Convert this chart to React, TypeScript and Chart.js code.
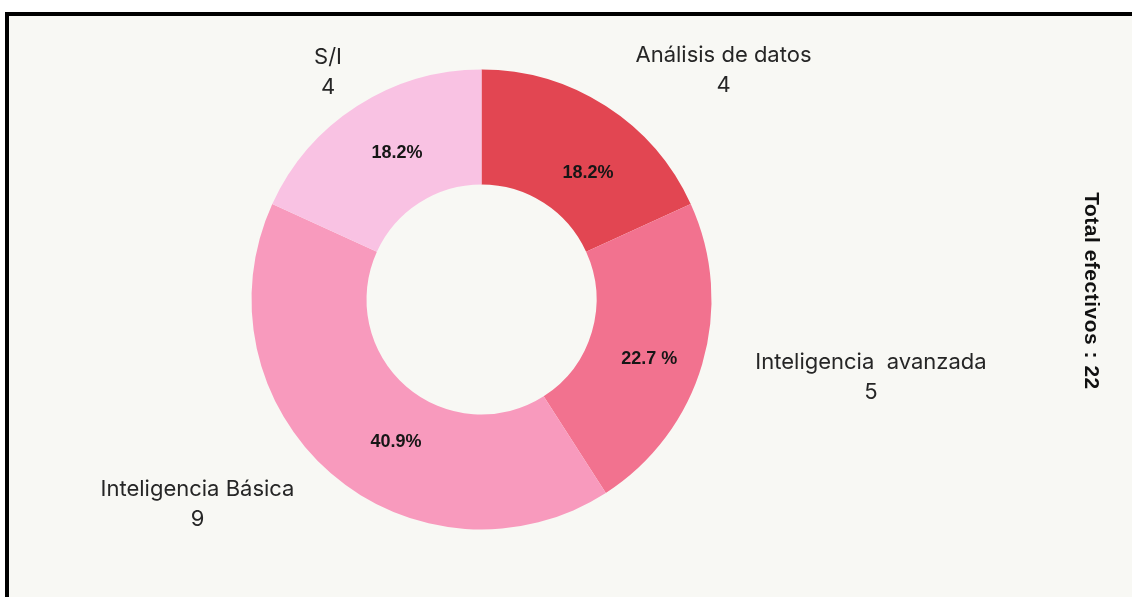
import React, { useEffect, useRef } from 'react';
import { Chart, registerables } from 'chart.js';

Chart.register(...registerables);

// ---- data ----
const categories = ['Análisis de datos', 'Inteligencia  avanzada', 'Inteligencia Básica', 'S/I'];
const counts = [4, 5, 9, 4];
const percentLabels = ['18.2%', '22.7 %', '40.9%', '18.2%'];
const totalLabel = 'Total efectivos : 22';

// ---- styles / layout ----
const sliceColors = ['#e24652', '#f2728f', '#f89abd', '#f9c2e3'];
const PAGE_W = 1132;
const PAGE_H = 597;
const CENTER_X = 481.5;
const CENTER_Y = 299.5;
const RADIUS = 230;
// outer label block centre, relative to doughnut centre
const outerLabelOffsets: [number, number][] = [
  [242, -229],
  [389.5, 77.5],
  [-284, 205],
  [-153.5, -227.5],
];
// percent label placement: angle shift from slice middle (deg) and radius (px)
const pctAngleShift = [7.5, 3.2, -9.9, 2.7];
const pctRadius = [165, 178, 166, 169];

const labelPlugin = {
  id: 'customLabels',
  afterDraw(chart: any) {
    const ctx = chart.ctx;
    const meta = chart.getDatasetMeta(0);
    ctx.save();
    meta.data.forEach((arc: any, i: number) => {
      const p = arc.getProps(['x', 'y', 'startAngle', 'endAngle'], true);
      const mid = (p.startAngle + p.endAngle) / 2 + (pctAngleShift[i] * Math.PI) / 180;
      const px = p.x + Math.cos(mid) * pctRadius[i];
      const py = p.y + Math.sin(mid) * pctRadius[i];
      ctx.font = 'bold 18px "Liberation Sans", Arial, sans-serif';
      ctx.fillStyle = '#161616';
      ctx.textAlign = 'center';
      ctx.textBaseline = 'middle';
      ctx.fillText(percentLabels[i], px, py);

      const [ox, oy] = outerLabelOffsets[i];
      ctx.font = '22px Inter, "Noto Sans", sans-serif';
      ctx.fillStyle = '#262626';
      ctx.fillText(categories[i], p.x + ox, p.y + oy - 15);
      ctx.fillText(String(counts[i]), p.x + ox, p.y + oy + 15);
    });

    // rotated total label
    ctx.translate(1091, 291);
    ctx.rotate(Math.PI / 2);
    ctx.font = 'bold 21px "Liberation Sans", Arial, sans-serif';
    (ctx as any).letterSpacing = '0.5px';
    ctx.fillStyle = '#111';
    ctx.textAlign = 'center';
    ctx.textBaseline = 'middle';
    ctx.fillText(totalLabel, 0, 0);
    ctx.restore();
  },
};

export default function App() {
  const canvasRef = useRef<HTMLCanvasElement | null>(null);

  useEffect(() => {
    if (!canvasRef.current) return;
    const chart = new Chart(canvasRef.current, {
      type: 'doughnut',
      data: {
        labels: categories,
        datasets: [
          {
            data: counts,
            backgroundColor: sliceColors,
            borderWidth: 0,
            hoverOffset: 0,
            offset: 0,
          },
        ],
      },
      options: {
        animation: false,
        responsive: false,
        maintainAspectRatio: false,
        cutout: '50%',
        layout: {
          padding: {
            left: CENTER_X - RADIUS,
            right: PAGE_W - (CENTER_X + RADIUS),
            top: CENTER_Y - RADIUS,
            bottom: PAGE_H - (CENTER_Y + RADIUS),
          },
        },
        plugins: {
          legend: { display: false },
          tooltip: { enabled: false },
        },
      },
      plugins: [labelPlugin],
    });
    return () => chart.destroy();
  }, []);

  return (
    <div
      style={{
        position: 'absolute',
        left: 0,
        top: 0,
        width: PAGE_W,
        height: PAGE_H,
        background: '#ffffff',
        overflow: 'hidden',
      }}
    >
      <div
        style={{
          position: 'absolute',
          left: 5,
          top: 12,
          width: PAGE_W + 20,
          height: PAGE_H + 20,
          borderLeft: '4px solid #000',
          borderTop: '4px solid #000',
          background: '#f8f8f4',
        }}
      />
      <canvas
        ref={canvasRef}
        width={PAGE_W}
        height={PAGE_H}
        style={{ position: 'absolute', left: 0, top: 0, width: PAGE_W, height: PAGE_H }}
      />
    </div>
  );
}
